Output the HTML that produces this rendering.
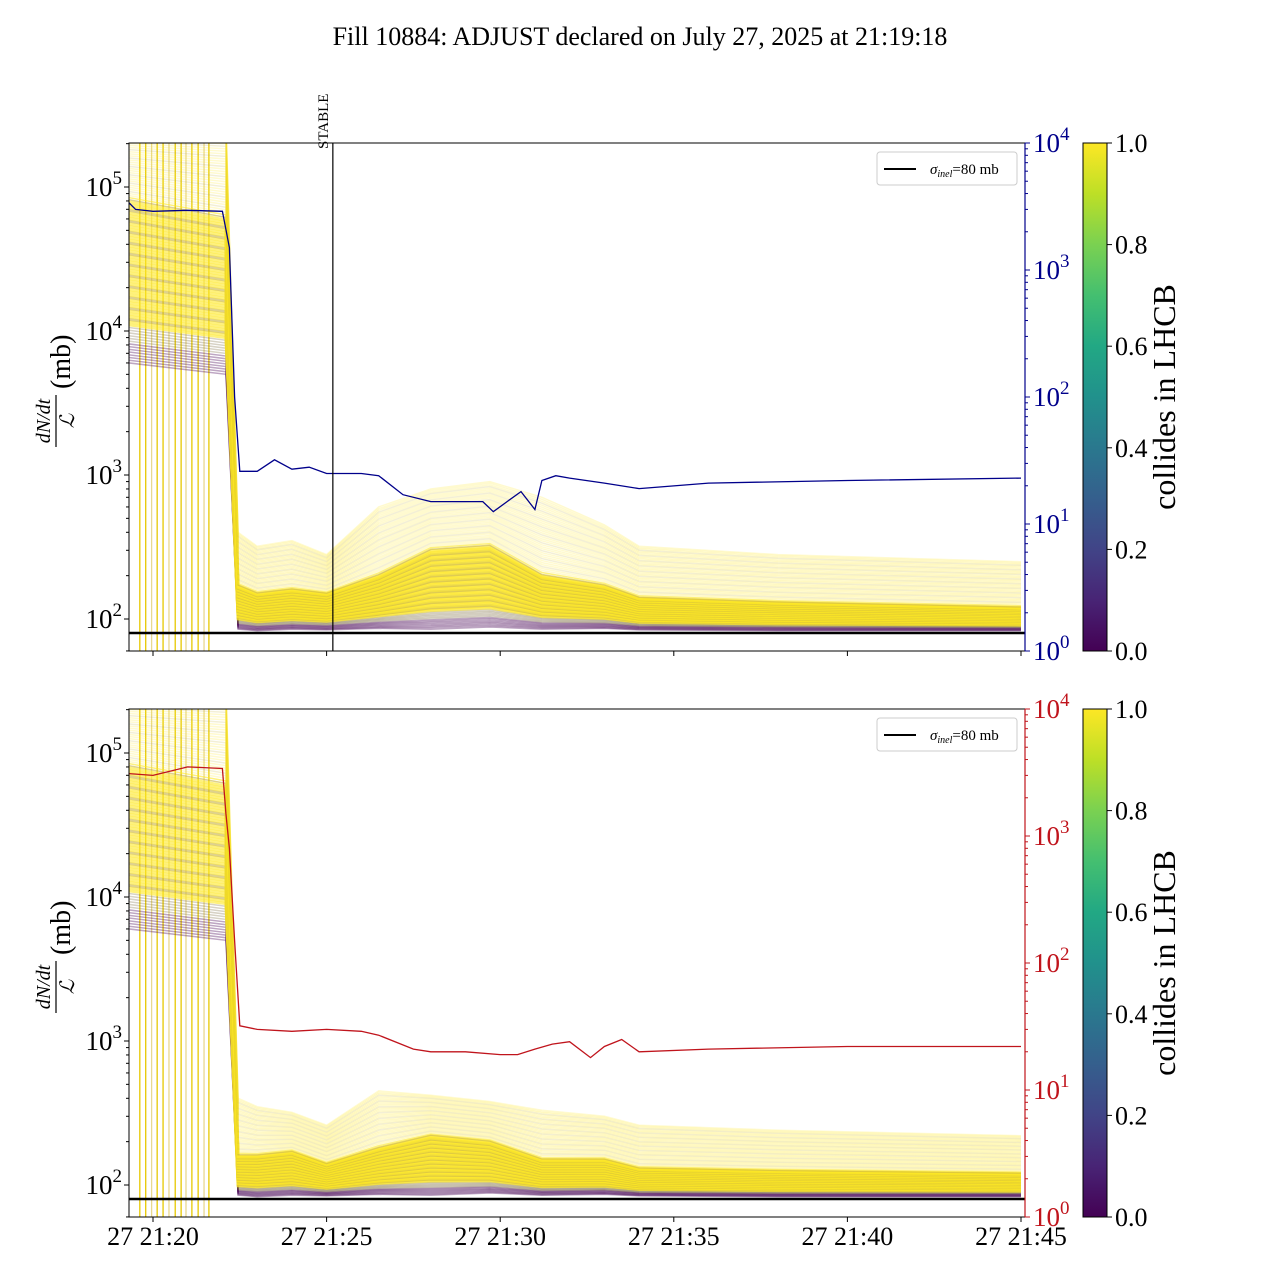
<!DOCTYPE html>
<html><head><meta charset="utf-8">
<style>
html,body{margin:0;padding:0;background:#fff}
svg{display:block;font-family:"Liberation Serif",serif}
</style></head>
<body>
<svg id="chart" width="1280" height="1280" viewBox="0 0 1280 1280" xmlns="http://www.w3.org/2000/svg">
<defs>
<linearGradient id="viridis" x1="0" y1="1" x2="0" y2="0">
<stop offset="0" stop-color="#440154"/><stop offset="0.1" stop-color="#482475"/><stop offset="0.2" stop-color="#414487"/>
<stop offset="0.3" stop-color="#355f8d"/><stop offset="0.4" stop-color="#2a788e"/><stop offset="0.5" stop-color="#21918c"/>
<stop offset="0.6" stop-color="#22a884"/><stop offset="0.7" stop-color="#44bf70"/><stop offset="0.8" stop-color="#7ad151"/>
<stop offset="0.9" stop-color="#bddf26"/><stop offset="1" stop-color="#fde725"/>
</linearGradient>
<clipPath id="clipTop"><rect x="129" y="143" width="896" height="508"/></clipPath>
<clipPath id="clipBot"><rect x="129" y="709" width="896" height="508"/></clipPath>
</defs>
<text x="640" y="45" text-anchor="middle" font-size="26">Fill 10884: ADJUST declared on July 27, 2025 at 21:19:18</text>
<g id="panels"></g>
</svg>
<script>
// ---- data ----
const times = [-0.7, 2.1, 2.45, 3, 4, 5, 6.5, 8, 9.7, 11.2, 13, 14, 18, 25]; // minutes after 21:20
const topUpper = [300000,300000,400,320,350,280,600,800,900,700,450,320,280,250];
const topCore  = [80000,60000,170,150,160,150,200,300,320,200,170,140,130,120];
const topLower = [6000,5000,85,83,85,84,86,85,88,85,86,84,83,83];
const botUpper = [300000,300000,400,350,320,260,450,420,380,330,300,260,240,220];
const botCore  = [80000,60000,160,160,170,140,180,220,200,150,150,130,125,120];
const botLower = [6000,5000,85,83,85,84,86,85,88,85,86,84,83,83];
const blueT = [-0.7,-0.5,0,1,2.0,2.2,2.35,2.5,3,3.5,4,4.5,5,6,6.5,7.2,8,9.5,9.8,10.2,10.6,11,11.2,11.6,12,13,14,16,20,25];
const blueV = [3400,3000,2900,2950,2900,1500,100,26,26,32,27,28,25,25,24,17,15,15,12.5,15,18,13,22,24,23,21,19,21,22,23];
const redT  = [-0.7,0,1,2.0,2.1,2.2,2.35,2.5,3,4,5,6,6.5,7.5,8,9,10,10.5,11,11.5,12,12.6,13,13.5,14,16,20,25];
const redV  = [3100,3000,3500,3400,1500,800,150,32,30,29,30,29,27,21,20,20,19,19,21,23,24,18,22,25,20,21,22,22];
const xTickLabels = ["27 21:20","27 21:25","27 21:30","27 21:35","27 21:40","27 21:45"];
const xTickMin = [0,5,10,15,20,25];
const leftTicks = [2,3,4,5];
const rightTicks = [0,1,2,3,4];
const cbTicks = ["0.0","0.2","0.4","0.6","0.8","1.0"];
const spikeT = [-0.38,-0.21,-0.04,0.12,0.29,0.46,0.64,0.81,0.95,1.12,1.3,1.47,1.61];

const NS="http://www.w3.org/2000/svg";
const root=document.getElementById('panels');
function el(tag,attrs,parent){const e=document.createElementNS(NS,tag);for(const k in attrs)e.setAttribute(k,attrs[k]);(parent||root).appendChild(e);return e;}
const X=t=>153+t*34.72;
const viridis=['#440154','#482475','#414487','#355f8d','#2a788e','#21918c','#22a884','#44bf70','#7ad151','#bddf26','#fde725'];

function panel(off, upper, core, lower, lineT, lineV, lineColor, clipId, showX, name){
  const top=143+off, bot=651+off;
  const YL=v=>top+44-(Math.log10(v)-5)*144;
  const YR=v=>top+(4-Math.log10(v))*127;
  const g=el('g',{'clip-path':`url(#${clipId})`});
  
  
  spikeT.forEach((t,i)=>{
    const l=el('line',{x1:X(t),x2:X(t),y1:top,y2:bot,stroke:i%3==2?'#e8d890':'#e6c800','stroke-width':1.3},g);
    
    
  });
  const N=100;
  for(let i=0;i<N;i++){
    const f=i/(N-1);
    let pts=[];
    for(let k=0;k<times.length;k++){
      const lo=Math.log10(lower[k]),c=Math.log10(core[k]),u=Math.log10(upper[k]);
      let v;
      if(f<0.6) v=lo+(c-lo)*(f/0.6); else v=c+(u-c)*((f-0.6)/0.4);
      pts.push(X(times[k]).toFixed(1)+','+YL(Math.pow(10,v)).toFixed(1));
    }
    let col, op, w=f<0.6?3:1.5;
    if(f<0.08){col=viridis[Math.floor(f*12)];op=0.35;w=1.5;}
    else if(f<0.14){col='#7a6a40';op=0.3;w=1.5;}
    else {col=(i%4==0)?'#c9b440':'#fde725';op=f<0.62?0.6:0.22;}
    const p=el('polyline',{points:pts.join(' '),fill:'none',stroke:col,'stroke-width':w,'stroke-opacity':op},g);
    
    
  }
  const h=el('line',{x1:129,x2:1025,y1:YL(80),y2:YL(80),stroke:'#000','stroke-width':2.5},g);
  
  
  const pl=el('polyline',{points:lineT.map((t,i)=>X(t).toFixed(1)+','+YR(lineV[i]).toFixed(1)).join(' '),fill:'none',stroke:lineColor,'stroke-width':1.3},g);
  
  
  const fr=el('rect',{x:129,y:top,width:896,height:508,fill:'none',stroke:'#000','stroke-width':1});
  
  
  leftTicks.forEach(e=>{
    const y=YL(Math.pow(10,e));
    el('line',{x1:124,x2:129,y1:y,y2:y,stroke:'#000'});
    const t=el('text',{x:122,y:y+9,'text-anchor':'end','font-size':27});
    t.textContent='10';
    const s=el('tspan',{dy:-12,'font-size':19},t);s.textContent=e;
    
    
    for(let m=2;m<10;m++){const ym=YL(m*Math.pow(10,e));if(ym>top&&ym<bot)el('line',{x1:126,x2:129,y1:ym,y2:ym,stroke:'#000'});}
  });
  {const ym=YL(60);el('line',{x1:126,x2:129,y1:ym,y2:ym,stroke:'#000'});}
  el('line',{x1:1025,x2:1025,y1:top,y2:bot,stroke:lineColor,'stroke-width':1.2});
  rightTicks.forEach(e=>{
    const y=YR(Math.pow(10,e));
    el('line',{x1:1025,x2:1030,y1:y,y2:y,stroke:lineColor});
    const t=el('text',{x:1033,y:y+9,'font-size':27,fill:lineColor});
    t.textContent='10';
    const s=el('tspan',{dy:-12,'font-size':19},t);s.textContent=e;
    
    
    if(e<4)for(let m=2;m<10;m++){const ym=YR(m*Math.pow(10,e));el('line',{x1:1025,x2:1028,y1:ym,y2:ym,stroke:lineColor});}
  });
  xTickMin.forEach((m,i)=>{
    const x=X(m);
    el('line',{x1:x,x2:x,y1:bot,y2:bot+5,stroke:'#000'});
    if(showX){const t=el('text',{x:x,y:bot+28,'text-anchor':'middle','font-size':26});t.textContent=xTickLabels[i];
      
      }
  });
  const yl=el('g',{transform:`translate(58,${top+254}) rotate(-90)`});
  
  
  const n=el('text',{x:-24,y:-8,'text-anchor':'middle','font-size':20,'font-style':'italic'},yl);n.textContent='dN/dt';
  el('line',{x1:-50,x2:2,y1:-2,y2:-2,stroke:'#000','stroke-width':1.2},yl);
  const d=el('text',{x:-24,y:16,'text-anchor':'middle','font-size':20,'font-style':'italic'},yl);d.textContent='ℒ';
  const mb=el('text',{x:8,y:12,'font-size':28},yl);mb.textContent='(mb)';
  const lg=el('g',{});
  
  
  el('rect',{x:877,y:top+9,width:140,height:33,rx:3,fill:'#fff',stroke:'#ccc'},lg);
  el('line',{x1:884,x2:916,y1:top+26,y2:top+26,stroke:'#000','stroke-width':2},lg);
  const lt=el('text',{x:930,y:top+31,'font-size':15},lg);
  const a=el('tspan',{'font-style':'italic'},lt);a.textContent='σ';
  const b=el('tspan',{'font-style':'italic','font-size':10,dy:3},lt);b.textContent='inel';
  const c=el('tspan',{dy:-3},lt);c.textContent='=80 mb';
  const cb=el('rect',{x:1083,y:top,width:24,height:508,fill:'url(#viridis)',stroke:'#000','stroke-width':1});
  
  
  cbTicks.forEach((s,i)=>{
    const y=bot-i*101.6;
    el('line',{x1:1107,x2:1112,y1:y,y2:y,stroke:'#000'});
    const t=el('text',{x:1115,y:y+9,'font-size':26});t.textContent=s;
    
    
  });
  const ct=el('text',{x:0,y:0,transform:`translate(1175,${top+254}) rotate(-90)`,'text-anchor':'middle','font-size':32});
  ct.textContent='collides in LHCB';
  
  
}
panel(0,topUpper,topCore,topLower,blueT,blueV,'#00008b','clipTop',false,'top-panel');
panel(566,botUpper,botCore,botLower,redT,redV,'#c0141c','clipBot',true,'bottom-panel');
const sx=X(5.18);
const sl=el('line',{x1:sx,x2:sx,y1:143,y2:651,stroke:'#000','stroke-width':1.2});


const st=el('text',{x:0,y:0,transform:`translate(${sx-5},149) rotate(-90)`,'font-size':15});
st.textContent='STABLE';


</script>
</body></html>
